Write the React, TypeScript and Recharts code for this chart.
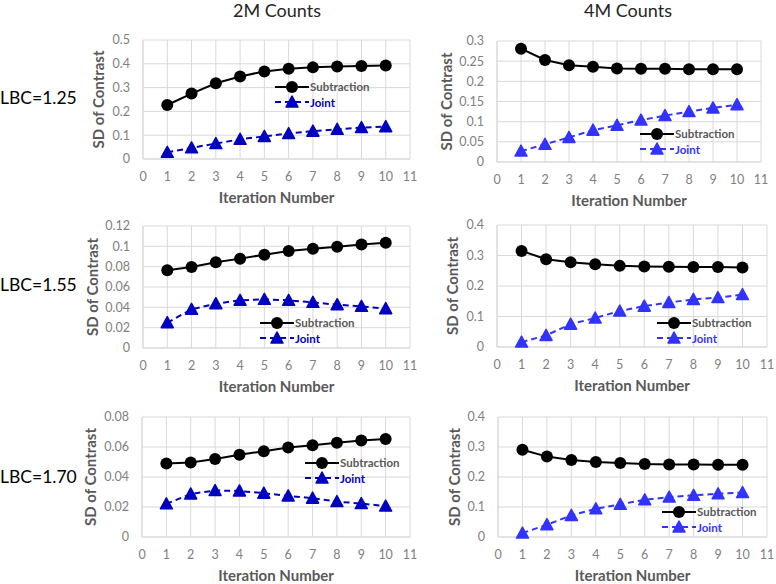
import { CartesianGrid, Line, LineChart, XAxis, YAxis } from 'recharts'

const iterations = [1, 2, 3, 4, 5, 6, 7, 8, 9, 10]
const xTicks = [0, 1, 2, 3, 4, 5, 6, 7, 8, 9, 10, 11]

const sub2M125 = [0.227, 0.275, 0.318, 0.347, 0.368, 0.379, 0.385, 0.389, 0.391, 0.393]
const joint2M125 = [0.028, 0.047, 0.065, 0.083, 0.095, 0.107, 0.117, 0.125, 0.132, 0.136]
const sub4M125 = [0.281, 0.253, 0.24, 0.236, 0.232, 0.231, 0.231, 0.23, 0.23, 0.23]
const joint4M125 = [0.027, 0.044, 0.061, 0.079, 0.091, 0.104, 0.115, 0.125, 0.134, 0.142]
const sub2M155 = [0.0765, 0.0797, 0.0843, 0.0879, 0.0918, 0.0954, 0.0977, 0.0997, 0.1018, 0.1036]
const joint2M155 = [0.0249, 0.038, 0.0436, 0.0469, 0.0479, 0.0469, 0.0449, 0.0426, 0.041, 0.0387]
const sub4M155 = [0.315, 0.288, 0.278, 0.271, 0.266, 0.264, 0.263, 0.262, 0.262, 0.261]
const joint4M155 = [0.016, 0.038, 0.075, 0.095, 0.118, 0.134, 0.146, 0.156, 0.162, 0.172]
const sub2M170 = [0.049, 0.0497, 0.052, 0.0548, 0.0572, 0.0597, 0.0612, 0.0628, 0.0643, 0.0654]
const joint2M170 = [0.0221, 0.0287, 0.031, 0.0307, 0.0292, 0.0274, 0.0259, 0.0236, 0.0223, 0.0206]
const sub4M170 = [0.291, 0.268, 0.257, 0.25, 0.247, 0.243, 0.242, 0.242, 0.241, 0.241]
const joint4M170 = [0.013, 0.041, 0.072, 0.094, 0.109, 0.124, 0.133, 0.139, 0.144, 0.148]

const yTicks2M125 = [0, 0.1, 0.2, 0.3, 0.4, 0.5]
const yTicks4M125 = [0, 0.05, 0.1, 0.15, 0.2, 0.25, 0.3]
const yTicks2M155 = [0, 0.02, 0.04, 0.06, 0.08, 0.1, 0.12]
const yTicks4M155 = [0, 0.1, 0.2, 0.3, 0.4]
const yTicks2M170 = [0, 0.02, 0.04, 0.06, 0.08]
const yTicks4M170 = [0, 0.1, 0.2, 0.3, 0.4]

const seriesNames = ['Subtraction', 'Joint']
const columnTitles = ['2M Counts', '4M Counts']
const rowLabels = ['LBC=1.25', 'LBC=1.55', 'LBC=1.70']

const FONT = 'Lato, "Open Sans", sans-serif'
const GRID = '#d9d9d9'
const RIGHT = 12
const YW = 70

const toRows = (sub: number[], joint: number[]) =>
  iterations.map((it, i) => ({ it, sub: sub[i], joint: joint[i] }))

const panels = [
  { sub: sub2M125, joint: joint2M125, ticks: yTicks2M125, blue: '#0000c0', x: 143, y: 40, w: 267, h: 119, ylab: 44, leg: [275, 87] },
  { sub: sub4M125, joint: joint4M125, ticks: yTicks4M125, blue: '#3333ff', x: 497, y: 41, w: 264, h: 121, ylab: 50, leg: [640, 134] },
  { sub: sub2M155, joint: joint2M155, ticks: yTicks2M155, blue: '#0000c0', x: 143, y: 226, w: 267, h: 122, ylab: 50, leg: [260, 323] },
  { sub: sub4M155, joint: joint4M155, ticks: yTicks4M155, blue: '#3333ff', x: 497, y: 225, w: 270, h: 122, ylab: 44, leg: [657, 323] },
  { sub: sub2M170, joint: joint2M170, ticks: yTicks2M170, blue: '#0000c0', x: 142, y: 417, w: 268, h: 120, ylab: 51, leg: [305, 463] },
  { sub: sub4M170, joint: joint4M170, ticks: yTicks4M170, blue: '#3333ff', x: 498, y: 417, w: 269, h: 120, ylab: 43, leg: [662, 512] },
]

const fmt = (v: number) => String(Number(v.toFixed(3)))

function Triangle(props: any) {
  const { cx, cy, fill } = props
  if (cx == null || cy == null) return null
  return (
    <path
      d={`M${cx},${cy - 6} L${cx + 6},${cy + 5} L${cx - 6},${cy + 5} Z`}
      fill={fill}
      stroke={fill}
      strokeWidth={1.5}
      strokeLinejoin="round"
    />
  )
}

// legend drawn as an overlay so it doesn't eat into the plot area
function LegendBox({ blue, x, y }: { blue: string; x: number; y: number }) {
  const row = { display: 'flex', alignItems: 'center', height: 15.5, whiteSpace: 'nowrap' } as const
  const txt = { fontFamily: FONT, fontSize: 11.5, fontWeight: 700, marginLeft: 1, lineHeight: 1 } as const
  return (
    <div style={{ position: 'absolute', left: x, top: y - 8, pointerEvents: 'none' }}>
      <div style={row}>
        <svg width={34} height={14} style={{ flexShrink: 0, display: 'block' }}>
          <line x1={0} y1={7} x2={34} y2={7} stroke="#000" strokeWidth={2} />
          <circle cx={17} cy={7} r={6} fill="#000" />
        </svg>
        <span style={{ ...txt, color: '#595959' }}>{seriesNames[0]}</span>
      </div>
      <div style={row}>
        <svg width={34} height={14} style={{ flexShrink: 0, display: 'block' }}>
          <line x1={0} y1={7} x2={34} y2={7} stroke={blue} strokeWidth={2} strokeDasharray="6 4" />
          <path d="M17,1 L23,12 L11,12 Z" fill={blue} stroke={blue} strokeWidth={1.5} strokeLinejoin="round" />
        </svg>
        <span style={{ ...txt, color: blue }}>{seriesNames[1]}</span>
      </div>
    </div>
  )
}

function Panel({ p }: { p: (typeof panels)[number] }) {
  const left = p.x - YW
  const top = p.y - 10
  const tickStyle = { fill: '#808080', fontSize: 12.5, fontFamily: FONT }
  const labelStyle = { fill: '#595959', fontSize: 15, fontWeight: 700, fontFamily: FONT }
  return (
    <>
      <div style={{ position: 'absolute', left, top }}>
        <LineChart
          width={p.w + YW + RIGHT}
          height={p.h + 60}
          data={toRows(p.sub, p.joint)}
          margin={{ top: 10, right: RIGHT, left: 0, bottom: 0 }}
        >
          <CartesianGrid stroke={GRID} />
          <XAxis
            dataKey="it"
            type="number"
            domain={[0, 11]}
            ticks={xTicks}
            height={50}
            stroke={GRID}
            tickLine={false}
            tickSize={0}
            tickMargin={13}
            tick={tickStyle}
            interval={0}
            label={{ value: 'Iteration Number', position: 'insideBottom', offset: 6, style: labelStyle }}
          />
          <YAxis
            type="number"
            domain={[0, p.ticks[p.ticks.length - 1]]}
            ticks={p.ticks}
            width={YW}
            stroke={GRID}
            tickLine={false}
            tickSize={0}
            tickMargin={13}
            tick={tickStyle}
            tickFormatter={fmt}
            interval={0}
            label={{
              value: 'SD of Contrast',
              angle: -90,
              position: 'insideLeft',
              offset: YW - p.ylab,
              style: { ...labelStyle, textAnchor: 'middle' },
            }}
          />
          <Line
            dataKey="sub"
            name={seriesNames[0]}
            stroke="#000"
            strokeWidth={2}
            dot={{ r: 6, fill: '#000', stroke: '#000', strokeWidth: 0 }}
            isAnimationActive={false}
          />
          <Line
            dataKey="joint"
            name={seriesNames[1]}
            stroke={p.blue}
            strokeWidth={2}
            strokeDasharray="6 4"
            dot={<Triangle fill={p.blue} />}
            isAnimationActive={false}
          />
        </LineChart>
      </div>
      <LegendBox blue={p.blue} x={p.leg[0]} y={p.leg[1]} />
    </>
  )
}

export default function App() {
  const titleStyle = { position: 'absolute', fontFamily: FONT, fontSize: 18, color: '#262626', lineHeight: '20px', whiteSpace: 'nowrap' } as const
  const rowStyle = { position: 'absolute', left: 0, fontFamily: FONT, fontSize: 17.5, color: '#000', lineHeight: '20px', whiteSpace: 'nowrap' } as const
  return (
    <div style={{ position: 'absolute', left: 0, top: 0, width: 776, height: 584, background: '#fff', overflow: 'hidden' }}>
      <div style={{ ...titleStyle, left: 277, top: 0, transform: 'translateX(-50%)' }}>{columnTitles[0]}</div>
      <div style={{ ...titleStyle, left: 628, top: 0, transform: 'translateX(-50%)' }}>{columnTitles[1]}</div>
      <div style={{ ...rowStyle, top: 88 }}>{rowLabels[0]}</div>
      <div style={{ ...rowStyle, top: 275 }}>{rowLabels[1]}</div>
      <div style={{ ...rowStyle, top: 467 }}>{rowLabels[2]}</div>
      {panels.map((p, i) => (
        <Panel key={i} p={p} />
      ))}
    </div>
  )
}
